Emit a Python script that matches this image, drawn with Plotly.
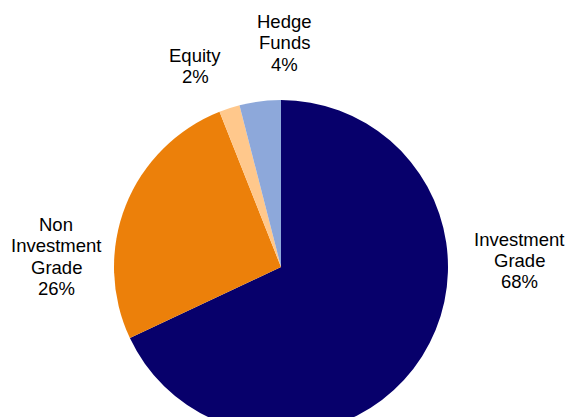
import plotly.graph_objects as go

labels = ["Investment Grade", "Non Investment Grade", "Equity", "Hedge Funds"]
label_lines = [["Investment", "Grade"], ["Non", "Investment", "Grade"], ["Equity"], ["Hedge", "Funds"]]
values = [68, 26, 2, 4]
colors = ["#07006B", "#EC800A", "#FFC88C", "#8DA8DA"]

# style: label block centre x and first-line centre y (pixels in the 569x417 view)
label_pos = [(519, 239.5), (56, 224.7), (195, 55.5), (284, 21.7)]
LINE_GAP = 21.2
FONT_SIZE = 18.5

W, H = 569, 460
cx, cy, r = 281, 267, 167


def px_x(x):
    return x / W


def px_y(y):
    return 1 - y / H


fig = go.Figure(go.Pie(
    labels=labels,
    values=values,
    marker=dict(colors=colors, line=dict(width=0)),
    sort=False,
    direction="clockwise",
    rotation=0,
    textinfo="none",
    hoverinfo="label+percent",
    domain=dict(x=[(cx - r) / W, (cx + r) / W], y=[(H - cy - r) / H, (H - cy + r) / H]),
))

total = sum(values)
for lines, v, (lx, ly) in zip(label_lines, values, label_pos):
    all_lines = lines + [f"{round(100 * v / total)}%"]
    for i, txt in enumerate(all_lines):
        fig.add_annotation(
            x=px_x(lx), y=px_y(ly + i * LINE_GAP), xref="paper", yref="paper",
            text=txt, showarrow=False, xanchor="center", yanchor="middle",
            font=dict(family="Liberation Sans, Arial, sans-serif", size=FONT_SIZE, color="#000000"),
            align="center",
        )

fig.update_layout(
    width=W, height=H,
    margin=dict(l=0, r=0, t=0, b=0),
    paper_bgcolor="white",
    plot_bgcolor="white",
    showlegend=False,
)

fig.write_html(
    "out.html",
    config={"displayModeBar": False},
    post_script="document.body.style.margin='0';document.body.style.overflow='hidden';",
)
